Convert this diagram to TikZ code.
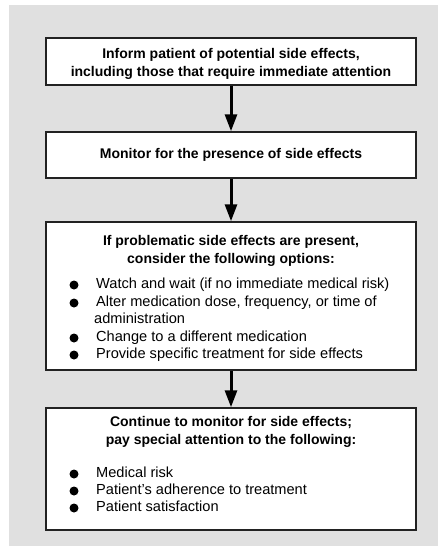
\documentclass[tikz,border=0pt]{standalone}
\usepackage{fontspec}
\setmainfont{Liberation Sans}
\usepackage{xcolor}
\usetikzlibrary{positioning,arrows.meta}
\definecolor{panelgrey}{HTML}{E0E0E0}
\definecolor{edgegrey}{HTML}{222222}
\tikzset{
  stepbox/.style={draw=edgegrey, line width=1.5pt, fill=white, minimum width=370pt, inner sep=0pt},
  flow/.style={line width=3pt, -{Triangle[length=17pt,width=12pt]}},
  title/.style={font=\bfseries\fontsize{14}{18}\selectfont, align=center, inner sep=0pt},
  item/.style={font=\fontsize{14.6}{17.5}\selectfont, anchor=west, inner sep=0pt, text height=10.5pt, text depth=3pt},
  dot/.style={circle, fill=black, minimum size=9pt, inner sep=0pt},
}
\begin{document}
\begin{tikzpicture}[x=1pt, y=-1pt]
    \useasboundingbox (0,0) rectangle (438,546);
    % Panel
    \fill[panelgrey] (9,5) rectangle (438,546);

    % Boxes
    \node[stepbox, minimum height=47pt] (inform) at (231,61.5) {};
    \node[stepbox, minimum height=46pt] (monitor) at (231,155) {};
    \node[stepbox, minimum height=148pt] (options) at (231,296) {};
    \node[stepbox, minimum height=122pt] (continue) at (231,469) {};

    % Titles
    \node[title] (informtext) at (231,64) {Inform patient of potential side effects,\\including those that require immediate attention};
    \node[title] (monitortext) at (231,155) {Monitor for the presence of side effects};
    \node[title] (optionstitle) at (231,251) {If problematic side effects are present,\\consider the following options:};
    \node[title] (continuetitle) at (231,432) {Continue to monitor for side effects;\\pay special attention to the following:};

    % Options
    \foreach \y/\txt in {285/{Watch and wait (if no immediate medical risk)},
                         303/{Alter medication dose, frequency, or time of},
                         338/{Change to a different medication},
                         355/{Provide specific treatment for side effects}} {
        \node[dot] (optdot\y) at (74,\y) {};
        \node[item] (opttext\y) at (96,\y) {\txt};
    }
    \node[item] (opttext320) at (94,320) {administration};

    % Points to watch
    \foreach \y/\txt in {474/{Medical risk},
                         491/{Patient’s adherence to treatment},
                         508/{Patient satisfaction}} {
        \node[dot] (watchdot\y) at (74,\y) {};
        \node[item] (watchtext\y) at (96,\y) {\txt};
    }

    % Arrows
    \draw[flow] (inform) -- (monitor);
    \draw[flow] (monitor) -- (options);
    \draw[flow] (options) -- (continue);
\end{tikzpicture}
\end{document}
